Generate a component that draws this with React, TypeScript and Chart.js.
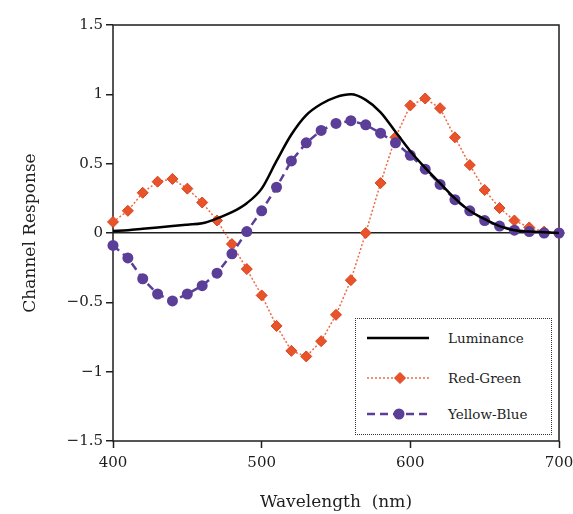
import React, { useEffect, useRef } from 'react';
import { Chart, registerables } from 'chart.js';

Chart.register(...registerables);

const wavelengths = [400, 410, 420, 430, 440, 450, 460, 470, 480, 490, 500, 510, 520, 530, 540, 550, 560, 570, 580, 590, 600, 610, 620, 630, 640, 650, 660, 670, 680, 690, 700];
const luminance = [0.015, 0.02, 0.03, 0.04, 0.05, 0.06, 0.07, 0.105, 0.15, 0.215, 0.32, 0.52, 0.71, 0.85, 0.93, 0.98, 1.0, 0.96, 0.87, 0.73, 0.59, 0.47, 0.36, 0.25, 0.16, 0.1, 0.05, 0.02, 0.01, 0.005, 0.0];
const redGreen = [0.08, 0.16, 0.29, 0.37, 0.39, 0.32, 0.22, 0.09, -0.08, -0.26, -0.45, -0.67, -0.85, -0.89, -0.78, -0.59, -0.34, 0.0, 0.36, 0.69, 0.92, 0.97, 0.9, 0.69, 0.49, 0.31, 0.18, 0.09, 0.04, 0.01, 0.0];
const yellowBlue = [-0.09, -0.18, -0.33, -0.44, -0.49, -0.44, -0.38, -0.29, -0.15, 0.01, 0.16, 0.33, 0.52, 0.65, 0.74, 0.79, 0.81, 0.78, 0.72, 0.65, 0.56, 0.46, 0.35, 0.24, 0.16, 0.09, 0.05, 0.02, 0.01, 0.0, 0.0];
const seriesNames = ['Luminance', 'Red-Green', 'Yellow-Blue'];
const xTicks = [400, 500, 600, 700];
const yTicks = [-1.5, -1, -0.5, 0, 0.5, 1, 1.5];
const xTitle = 'Wavelength  (nm)';
const yTitle = 'Channel Response';

const FONT = '"DejaVu Serif", serif';
const RED = '#e8532b';
const PURPLE = '#5b3e98';
const INK = '#1e1e1e';

const fmt = (v: number) => (v < 0 ? '\u2212' + Math.abs(v) : String(v));

const framePlugin = {
  id: 'frame',
  beforeDatasetsDraw(chart: any) {
    const { ctx, chartArea } = chart;
    ctx.save();
    ctx.strokeStyle = INK;
    ctx.lineWidth = 1.5;
    ctx.strokeRect(chartArea.left, chartArea.top, chartArea.right - chartArea.left, chartArea.bottom - chartArea.top);
    ctx.restore();
  },
};

export default function App() {
  const ref = useRef<HTMLCanvasElement>(null);

  useEffect(() => {
    if (!ref.current) return;
    const pts = (ys: number[]) => wavelengths.map((x, i) => ({ x, y: ys[i] }));
    const chart = new Chart(ref.current, {
      type: 'line',
      data: {
        datasets: [
          {
            label: seriesNames[1],
            data: pts(redGreen),
            borderColor: '#ee6a44',
            borderWidth: 1.5,
            borderDash: [2, 2],
            pointStyle: 'rectRot',
            pointRadius: 5.5,
            pointBackgroundColor: RED,
            pointBorderColor: '#d8431d',
            pointBorderWidth: 1,
            tension: 0,
            clip: false,
            order: 3,
          } as any,
          {
            label: seriesNames[2],
            data: pts(yellowBlue),
            borderColor: PURPLE,
            borderWidth: 2.5,
            borderDash: [8, 5],
            pointStyle: 'circle',
            pointRadius: 5.5,
            pointBackgroundColor: PURPLE,
            pointBorderColor: PURPLE,
            pointBorderWidth: 0,
            tension: 0,
            clip: false,
            order: 2,
          } as any,
          {
            label: seriesNames[0],
            data: pts(luminance),
            borderColor: '#000',
            borderWidth: 2.5,
            pointRadius: 0,
            cubicInterpolationMode: 'monotone',
            clip: false,
            order: 1,
          } as any,
        ],
      },
      options: {
        animation: false,
        responsive: false,
        layout: { padding: { top: 25, right: 0, left: 0, bottom: 0 } },
        plugins: { legend: { display: false }, tooltip: { enabled: false } },
        scales: {
          x: {
            type: 'linear',
            min: 400,
            max: 700,
            afterBuildTicks: (s: any) => { s.ticks = xTicks.map((v) => ({ value: v })); },
            afterFit: (s: any) => { s.height = 73; s.paddingLeft = 14; s.paddingRight = 14; },
            border: { display: false },
            grid: { drawOnChartArea: false, drawTicks: true, tickLength: 7, tickColor: INK, tickWidth: 1.5 },
            ticks: { color: INK, font: { family: FONT, size: 15 }, padding: 6, maxRotation: 0, callback: (v: any) => String(v) },
            title: { display: true, text: xTitle, color: INK, font: { family: FONT, size: 17 }, padding: { top: 4, bottom: 1 } },
          },
          y: {
            type: 'linear',
            min: -1.5,
            max: 1.5,
            afterBuildTicks: (s: any) => { s.ticks = yTicks.map((v) => ({ value: v })); },
            afterFit: (s: any) => { s.width = 113; },
            border: { display: false },
            grid: {
              drawOnChartArea: true,
              drawTicks: true,
              tickLength: 7,
              tickColor: INK,
              tickWidth: 1.5,
              color: (c: any) => (c.tick && c.tick.value === 0 ? INK : 'rgba(0,0,0,0)'),
              lineWidth: 1.5,
            },
            ticks: { color: INK, font: { family: FONT, size: 15 }, padding: 3, callback: (v: any) => fmt(Number(v)) },
            title: { display: true, text: yTitle, color: INK, font: { family: FONT, size: 17 }, padding: { top: 20, bottom: 0 } },
          },
        },
      } as any,
      plugins: [framePlugin],
    });
    return () => chart.destroy();
  }, []);

  const rowStyle = (top: number): React.CSSProperties => ({
    position: 'absolute',
    left: 0,
    top: top - 10,
    height: 20,
    width: '100%',
  });
  const textStyle: React.CSSProperties = {
    position: 'absolute',
    left: 92,
    top: 0,
    lineHeight: '20px',
    fontFamily: FONT,
    fontSize: 13.5,
    color: INK,
    whiteSpace: 'nowrap',
  };
  const svgStyle: React.CSSProperties = { position: 'absolute', left: 11, top: 1 };

  return (
    <div style={{ position: 'absolute', left: 0, top: 0, width: 573, height: 514, background: '#fff' }}>
      <canvas ref={ref} width={573} height={514} style={{ display: 'block' }} />
      <div
        style={{
          position: 'absolute',
          left: 355,
          top: 318,
          width: 197,
          height: 117,
          boxSizing: 'border-box',
          border: '1.5px dotted #333',
          background: '#fff',
        }}
      >
        <div style={rowStyle(19)}>
          <svg width={62} height={18} style={svgStyle}>
            <line x1={0} y1={9} x2={62} y2={9} stroke="#000" strokeWidth={2.5} />
          </svg>
          <span style={textStyle}>{seriesNames[0]}</span>
        </div>
        <div style={rowStyle(59)}>
          <svg width={62} height={18} style={svgStyle}>
            <line x1={0} y1={9} x2={62} y2={9} stroke="#ee6a44" strokeWidth={1.5} strokeDasharray="2 2" />
            <polygon points="33,3.5 38.5,9 33,14.5 27.5,9" fill={RED} stroke="#d8431d" strokeWidth={1} />
          </svg>
          <span style={textStyle}>{seriesNames[1]}</span>
        </div>
        <div style={rowStyle(95)}>
          <svg width={62} height={18} style={svgStyle}>
            <line x1={0} y1={9} x2={62} y2={9} stroke={PURPLE} strokeWidth={2.5} strokeDasharray="8 5" />
            <circle cx={32} cy={9} r={5.5} fill={PURPLE} />
          </svg>
          <span style={textStyle}>{seriesNames[2]}</span>
        </div>
      </div>
    </div>
  );
}
